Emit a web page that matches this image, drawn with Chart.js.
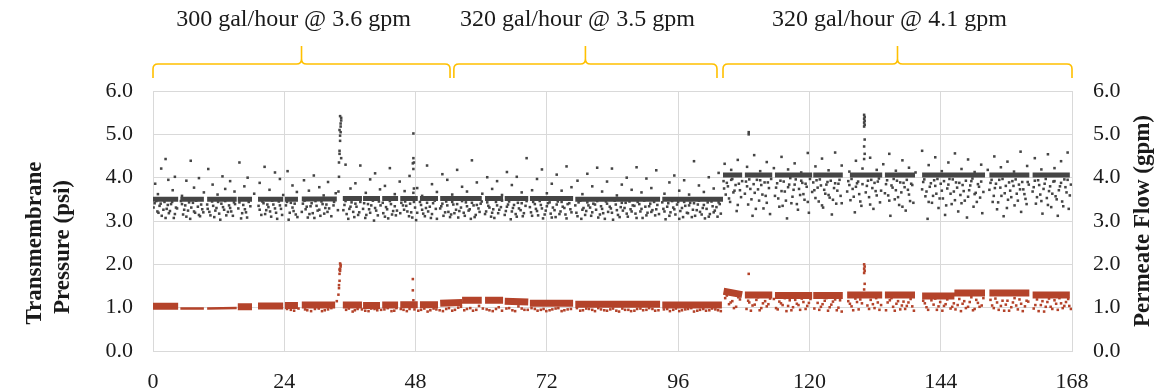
<!DOCTYPE html>
<html>
<head>
<meta charset="utf-8">
<script src="https://cdn.jsdelivr.net/npm/chart.js@4/dist/chart.umd.min.js"></script>
<style>
  html, body { margin: 0; padding: 0; background: #fff; }
  #wrap { width: 1158px; height: 391px; }
</style>
</head>
<body>
<div id="wrap"><canvas id="chart"></canvas></div>
<script>
// x ticks (hours) and y ticks
const hourTicks = [0, 24, 48, 72, 96, 120, 144, 168]
const valueTicks = [0, 1, 2, 3, 4, 5, 6]

// operating periods: start hour, end hour, label
const periodStart = [0, 55.0, 104.2]
const periodEnd = [54.3, 103.1, 168]
const periodLabels = ['300 gal/hour @ 3.6 gpm', '320 gal/hour @ 3.5 gpm', '320 gal/hour @ 4.1 gpm']

// dense runs of permeate flow readings: [from hour, to hour, value]
const flowRuns = [
  [0, 4.6, 3.5], [5.0, 9.3, 3.5], [9.9, 15.3, 3.5], [15.5, 18.1, 3.5], [19.2, 23.8, 3.5],
  [24.1, 26.5, 3.5], [27.2, 33.6, 3.51], [34.7, 38.2, 3.52], [38.4, 41.5, 3.52], [41.9, 44.8, 3.52],
  [45.2, 48.4, 3.52], [48.8, 52.1, 3.52], [52.5, 56.5, 3.52], [56.5, 60.1, 3.52], [60.7, 64.0, 3.52],
  [64.3, 68.6, 3.52], [68.9, 76.8, 3.52], [77.2, 92.7, 3.5], [93.1, 104.2, 3.5],
  [104.2, 107.7, 4.06], [108.2, 113.2, 4.06], [113.7, 120.5, 4.06], [120.7, 126.1, 4.06],
  [127.4, 133.3, 4.06], [133.8, 139.3, 4.06], [140.6, 152.1, 4.06], [152.9, 160.2, 4.06], [160.8, 167.6, 4.06]
]

// scattered permeate flow readings [hour, gpm]
const flowScatter = [
  [0.3,3.41],[0.8,3.22],[1.2,3.35],[1.6,3.12],[2.1,3.44],[2.5,3.28],[2.9,3.18],[3.3,3.39],[3.8,3.07],[4.2,3.31],
  [5.1,3.46],[5.5,3.15],[5.9,3.36],[6.4,3.24],[6.8,3.05],[7.3,3.42],[7.7,3.19],[8.2,3.33],[8.6,3.11],[9.0,3.27],
  [9.9,3.38],[10.3,3.21],[10.8,3.45],[11.2,3.09],[11.6,3.30],[12.1,3.17],[12.5,3.40],[13.0,3.26],[13.4,3.13],[13.9,3.36],
  [14.3,3.22],[14.8,3.43],[15.6,3.29],[16.1,3.06],[16.5,3.37],[17.0,3.20],[17.5,3.44],[19.3,3.35],[19.8,3.14],[20.2,3.41],
  [20.7,3.25],[21.1,3.32],[21.6,3.10],[22.0,3.38],[22.5,3.19],[23.0,3.45],[23.4,3.28],[24.3,3.36],[24.8,3.03],[25.2,3.42],
  [25.7,3.23],[26.1,3.15],[27.4,3.40],[27.9,3.27],[28.3,3.08],[28.8,3.34],[29.2,3.18],[29.7,3.46],[30.1,3.24],[30.6,3.12],
  [31.0,3.39],[31.5,3.30],[31.9,3.21],[33.1,3.44],[35.0,3.37],[35.4,3.16],[35.9,3.28],[36.3,3.43],[36.8,3.09],[37.2,3.33],
  [37.7,3.20],[38.6,3.41],[39.0,3.14],[39.5,3.27],[39.9,3.36],[40.4,3.01],[40.8,3.24],[41.3,3.45],[42.1,3.18],[42.6,3.32],
  [43.0,3.06],[43.5,3.39],[43.9,3.23],[44.4,3.13],[45.4,3.42],[45.9,3.26],[46.3,3.35],[46.8,3.11],[47.2,3.20],[47.7,3.44],
  [48.1,3.02],[49.0,3.37],[49.4,3.17],[49.9,3.30],[50.3,3.22],[50.8,3.07],[51.2,3.41],[51.7,3.28],[52.7,3.34],[53.1,3.12],
  [53.6,3.45],[54.0,3.21],[54.5,3.15],[54.9,3.38],[55.4,3.26],[55.8,3.08],[56.3,3.31],[56.8,3.19],[57.2,3.43],[57.7,3.24],
  [58.1,3.05],[58.6,3.36],[59.0,3.14],[59.5,3.29],[59.9,3.40],[60.9,3.22],[61.3,3.35],[61.8,3.10],[62.2,3.27],[62.7,3.44],
  [63.1,3.18],[63.6,3.32],[64.5,3.23],[64.9,3.38],[65.4,3.04],[65.8,3.30],[66.3,3.16],[66.7,3.42],[67.2,3.25],[67.6,3.11],
  [68.1,3.35],[69.1,3.20],[69.5,3.44],[70.0,3.28],[70.4,3.13],[70.9,3.37],[71.3,3.06],[71.8,3.24],[72.2,3.41],[72.7,3.17],
  [73.1,3.31],[73.6,3.09],[74.0,3.45],[74.5,3.22],[74.9,3.33],[75.4,3.15],[75.8,3.39],[76.3,3.27],[77.4,3.19],[77.8,3.43],
  [78.3,3.05],[78.7,3.30],[79.2,3.23],[79.6,3.36],[80.1,3.12],[80.5,3.40],[81.0,3.26],[81.4,3.08],[81.9,3.34],[82.3,3.18],
  [82.8,3.45],[83.2,3.21],[83.7,3.29],[84.1,3.03],[84.6,3.38],[85.0,3.14],[85.5,3.32],[85.9,3.24],[86.4,3.42],[86.8,3.10],
  [87.3,3.27],[87.7,3.36],[88.2,3.17],[88.6,3.44],[89.1,3.22],[89.5,3.07],[90.0,3.33],[90.4,3.19],[90.9,3.40],[91.3,3.25],
  [91.8,3.13],[92.2,3.37],[93.3,3.28],[93.7,3.04],[94.2,3.41],[94.6,3.20],[95.1,3.31],[95.5,3.15],[96.0,3.44],[96.4,3.23],
  [96.9,3.09],[97.3,3.35],[97.8,3.18],[98.2,3.42],[98.7,3.26],[99.1,3.12],[99.6,3.38],[100.0,3.21],[100.5,3.30],[100.9,3.06],
  [101.4,3.43],[101.8,3.16],[102.3,3.34],[102.7,3.24],[103.2,3.10],[103.6,3.39],
  [0.4,3.86],[0.9,3.62],[1.5,4.21],[2.3,4.43],[2.8,3.95],[3.6,3.71],[4.0,4.02],[5.3,3.58],[6.1,3.93],[6.9,4.39],
  [7.5,3.77],[8.4,3.99],[9.3,3.66],[10.1,4.20],[10.9,3.84],[11.8,3.61],[12.7,4.03],[13.2,3.74],[14.1,3.92],[14.9,3.68],
  [15.8,4.35],[16.7,3.80],[17.3,4.00],[18.5,3.63],[19.5,3.88],[20.4,4.25],[21.3,3.72],[22.3,4.12],[23.2,3.97],[23.8,3.60],
  [24.6,4.15],[25.5,3.82],[26.3,3.67],[27.6,3.94],[28.5,3.70],[29.4,4.05],[30.4,3.78],[31.2,3.59],[32.0,3.90],[33.4,3.64],
  [35.2,4.30],[36.1,3.75],[37.0,3.87],[37.9,4.28],[38.9,3.65],[39.7,3.96],[40.6,4.10],[41.5,3.73],[42.4,3.81],[43.3,4.22],
  [44.2,3.62],[45.1,3.91],[46.0,3.69],[46.9,4.04],[47.5,4.33],[48.3,3.76],[49.2,3.58],[50.1,4.28],[51.0,3.85],[51.9,3.67],
  [52.9,4.08],[53.8,3.95],[54.7,3.61],[55.6,4.18],[56.5,3.79],[57.4,3.68],[58.3,4.40],[59.2,3.89],[60.2,3.63],[61.1,4.01],
  [62.0,3.74],[62.9,3.92],[63.8,3.60],[64.7,4.13],[65.6,3.83],[66.5,4.02],[67.4,3.66],[68.3,4.45],[69.3,3.71],[70.2,3.97],
  [71.1,4.19],[72.0,3.64],[72.9,3.86],[73.8,4.07],[74.7,3.70],[75.6,4.26],[76.5,3.78],[77.6,3.93],[78.5,3.62],[79.4,4.09],
  [80.3,3.80],[81.2,4.23],[82.1,3.68],[83.0,3.91],[83.9,4.21],[84.8,3.59],[85.7,3.84],[86.6,4.00],[87.5,3.72],[88.4,4.24],
  [89.3,3.66],[90.2,3.98],[91.1,3.76],[92.0,4.17],[93.5,3.63],[94.4,3.89],[95.3,4.05],[96.2,3.70],[97.1,3.94],[98.0,3.61],
  [98.9,4.38],[99.8,3.82],[100.7,3.67],[101.6,4.01],[102.5,3.75],[103.4,4.11],
  [33.8,3.25],[33.9,3.68],[34.0,4.02],[34.0,4.35],[34.1,4.55],[34.1,4.62],[34.2,4.85],[34.2,4.97],[34.3,5.05],[34.3,5.18],
  [34.3,5.25],[34.4,5.32],[34.4,5.38],[34.2,5.42],[34.1,5.10],[34.4,4.45],
  [47.6,5.02],[47.6,4.45],[47.7,4.35],[47.6,4.20],[47.7,3.75],[47.6,3.65],
  [104.3,3.92],[104.7,3.61],[105.1,3.80],[105.5,3.44],[105.9,3.97],[106.3,3.70],[106.7,3.23],[107.1,3.86],[107.5,3.55],[108.4,3.91],
  [108.8,3.38],[109.2,3.74],[109.6,3.12],[110.0,3.65],[110.4,3.95],[110.8,3.47],[111.2,3.83],[111.6,3.29],[112.0,3.58],[112.4,3.89],
  [112.8,3.16],[113.9,3.77],[114.3,3.52],[114.7,3.93],[115.1,3.35],[115.5,3.68],[115.9,3.06],[116.3,3.84],[116.7,3.41],[117.1,3.72],
  [117.5,3.96],[117.9,3.26],[118.3,3.60],[118.7,3.88],[119.1,3.49],[119.5,3.79],[119.9,3.19],[120.9,3.71],[121.3,3.94],[121.7,3.45],
  [122.1,3.82],[122.5,3.31],[122.9,3.63],[123.3,3.90],[123.7,3.54],[124.1,3.15],[124.5,3.76],[124.9,3.40],[125.3,3.86],[125.7,3.58],
  [127.1,3.92],[127.5,3.48],[127.9,3.74],[128.3,3.20],[128.7,3.87],[129.1,3.62],[129.5,3.35],[130.5,3.81],[130.9,3.55],[131.3,3.95],
  [131.7,3.28],[132.1,3.69],[132.5,3.91],[132.9,3.43],[134.0,3.85],[134.4,3.59],[134.8,3.12],[135.2,3.77],[135.6,3.50],[136.0,3.93],
  [136.4,3.37],[136.8,3.66],[137.2,3.88],[137.6,3.24],[138.0,3.72],[138.4,3.46],[138.8,3.83],[140.8,3.90],[141.2,3.57],[141.6,3.05],
  [142.0,3.79],[142.4,3.42],[142.8,3.94],[143.2,3.63],[143.6,3.30],[144.0,3.86],[144.4,3.52],[144.8,3.14],[145.2,3.75],[145.6,3.97],
  [146.0,3.39],[146.4,3.68],[146.8,3.89],[147.2,3.22],[147.6,3.60],[148.0,3.83],[148.4,3.47],[148.8,3.08],[149.2,3.71],[149.6,3.92],
  [150.0,3.33],[150.4,3.65],[150.8,3.85],[151.2,3.54],[151.6,3.18],[153.1,3.88],[153.5,3.44],[153.9,3.76],[154.3,3.27],[154.7,3.95],
  [155.1,3.58],[155.5,3.11],[155.9,3.81],[156.3,3.49],[156.7,3.70],[157.1,3.92],[157.5,3.36],[157.9,3.63],[158.3,3.84],[158.7,3.21],
  [159.1,3.73],[159.5,3.51],[159.9,3.90],[161.0,3.78],[161.4,3.40],[161.8,3.94],[162.2,3.61],[162.6,3.17],[163.0,3.86],[163.4,3.53],
  [163.8,3.69],[164.2,3.32],[164.6,3.91],[165.0,3.57],[165.4,3.12],[165.8,3.80],[166.2,3.45],[166.6,3.96],[167.0,3.66],[167.4,3.28],[167.8,3.84],
  [104.5,4.32],[105.7,4.18],[106.9,4.41],[108.6,4.25],[109.9,4.52],[111.0,4.15],[112.2,4.36],[113.5,4.22],[114.9,4.48],[116.1,4.19],
  [117.3,4.33],[118.5,4.12],[119.7,4.57],[121.1,4.26],[122.3,4.44],[123.5,4.17],[124.7,4.58],[125.9,4.28],[127.3,4.14],[128.5,4.39],
  [129.7,4.21],[131.1,4.46],[132.3,4.18],[133.5,4.31],[134.6,4.55],[135.8,4.16],[137.0,4.40],[138.2,4.23],[139.4,4.12],[140.6,4.62],
  [141.8,4.29],[143.0,4.47],[144.2,4.15],[145.4,4.35],[146.6,4.56],[147.8,4.20],[149.0,4.42],[150.2,4.13],[151.4,4.30],[152.6,4.18],
  [153.8,4.49],[155.0,4.24],[156.2,4.37],[157.4,4.14],[158.6,4.60],[159.8,4.27],[161.2,4.45],[162.4,4.19],[163.6,4.54],[164.8,4.22],
  [166.0,4.38],[167.2,4.58],
  [108.9,5.05],[108.9,5.00],
  [130.0,5.45],[130.1,5.40],[130.0,5.36],[130.1,5.31],[130.0,5.27],[130.1,5.22],[130.0,5.18],[130.1,4.88],[130.0,4.72],[130.1,4.55],[130.0,4.43]
]

// more permeate flow readings close under the dense runs
const flowScatterMore = [
  [0.1,3.31],[0.6,3.46],[1.0,3.19],[1.4,3.40],[1.9,3.26],[2.3,3.07],[2.7,3.37],[3.1,3.23],[3.5,3.44],[4.0,3.16],[4.4,3.29],
  [5.3,3.39],[5.7,3.26],[6.1,3.10],[6.6,3.43],[7.0,3.31],[7.5,3.22],[7.9,3.47],[8.4,3.14],[8.8,3.38],[9.2,3.20],
  [10.0,3.28],[10.5,3.13],[11.0,3.35],[11.4,3.24],[11.9,3.44],[12.3,3.03],[12.8,3.32],[13.2,3.46],[13.7,3.21],[14.1,3.30],[14.6,3.12],[15.0,3.39],
  [15.8,3.43],[16.3,3.18],[16.8,3.27],[17.2,3.08],[17.8,3.34],
  [19.5,3.26],[20.0,3.45],[20.5,3.16],[20.9,3.38],[21.4,3.22],[21.8,3.47],[22.3,3.29],[22.7,3.05],[23.2,3.36],[23.6,3.14],
  [24.5,3.44],[25.0,3.19],[25.5,3.31],[25.9,3.40],[26.4,3.09],
  [27.2,3.21],[27.7,3.47],[28.1,3.33],[28.6,3.16],[29.0,3.41],[29.5,3.07],[29.9,3.35],[30.4,3.26],[30.8,3.45],[31.3,3.17],[31.7,3.38],[32.2,3.29],[32.6,3.11],[33.0,3.36],
  [34.8,3.25],[35.2,3.46],[35.7,3.05],[36.1,3.33],[36.6,3.21],[37.0,3.40],[37.5,3.14],[37.9,3.44],[38.4,3.28],[38.8,3.07],[39.3,3.39],[39.7,3.19],[40.2,3.47],[40.6,3.30],[41.1,3.13],[41.6,3.36],
  [42.0,3.42],[42.4,3.10],[42.8,3.27],[43.3,3.46],[43.7,3.15],[44.2,3.34],[44.6,3.24],
  [45.2,3.18],[45.7,3.36],[46.1,3.45],[46.5,3.22],[47.0,3.40],[47.4,3.08],[47.9,3.31],[48.3,3.19],
  [48.8,3.44],[49.2,3.26],[49.7,3.11],[50.1,3.42],[50.6,3.33],[51.0,3.16],[51.5,3.47],[51.9,3.05],[52.5,3.29],[52.9,3.40],[53.4,3.20],[53.8,3.36],[54.3,3.09],[54.7,3.44],[55.1,3.18],[55.6,3.39],[56.0,3.23],[56.5,3.46],[57.0,3.12],[57.4,3.34],[57.9,3.27],[58.3,3.42],[58.8,3.09],[59.2,3.37],[59.7,3.21],[60.1,3.45],
  [60.7,3.16],[61.1,3.43],[61.5,3.31],[62.0,3.19],[62.4,3.07],[62.9,3.36],[63.3,3.26],[63.8,3.47],
  [64.3,3.14],[64.7,3.33],[65.1,3.45],[65.6,3.22],[66.0,3.37],[66.5,3.10],[66.9,3.29],[67.4,3.41],[67.8,3.18],[68.3,3.46],
  [68.9,3.32],[69.3,3.12],[69.8,3.39],[70.2,3.23],[70.7,3.46],[71.1,3.29],[71.6,3.15],[72.0,3.34],[72.5,3.43],[72.9,3.08],[73.4,3.25],[73.8,3.38],[74.3,3.16],[74.7,3.44],[75.2,3.30],[75.6,3.06],[76.1,3.41],[76.5,3.20],
  [77.2,3.36],[77.6,3.11],[78.1,3.47],[78.5,3.26],[79.0,3.14],[79.4,3.43],[79.9,3.31],[80.3,3.20],[80.8,3.38],[81.2,3.46],[81.7,3.15],[82.1,3.28],[82.6,3.05],[83.0,3.40],[83.5,3.33],[83.9,3.19],[84.4,3.47],[84.8,3.25],[85.3,3.09],[85.7,3.42],[86.2,3.30],[86.6,3.17],[87.1,3.45],[87.5,3.22],[88.0,3.35],[88.4,3.07],[88.9,3.39],[89.3,3.28],[89.8,3.47],[90.2,3.13],[90.7,3.34],[91.1,3.21],[91.6,3.44],[92.0,3.27],[92.5,3.16],
  [93.1,3.43],[93.5,3.22],[94.0,3.33],[94.4,3.12],[94.9,3.46],[95.3,3.27],[95.8,3.38],[96.2,3.05],[96.7,3.30],[97.1,3.44],[97.6,3.19],[98.0,3.36],[98.5,3.09],[98.9,3.41],[99.4,3.25],[99.8,3.47],[100.3,3.15],[100.7,3.37],[101.2,3.28],[101.6,3.10],[102.1,3.45],[102.5,3.20],[103.0,3.32],[103.4,3.43],[103.8,3.17],
  [104.4,3.75],[104.9,3.88],[105.3,3.52],[105.7,3.95],[106.1,3.66],[106.5,3.83],[106.9,3.37],[107.3,3.71],[107.7,3.92],
  [108.2,3.63],[108.6,3.80],[109.0,3.96],[109.4,3.50],[109.8,3.85],[110.2,3.28],[110.6,3.73],[111.0,3.94],[111.4,3.61],[111.8,3.89],[112.2,3.42],[112.6,3.76],[113.0,3.97],
  [113.7,3.58],[114.1,3.87],[114.5,3.33],[114.9,3.69],[115.3,3.91],[115.7,3.47],[116.1,3.78],[116.5,3.99],[116.9,3.56],[117.3,3.84],[117.7,3.39],[118.1,3.74],[118.5,3.93],[118.9,3.62],[119.3,3.86],[119.7,3.44],[120.1,3.97],[120.5,3.67],
  [120.7,3.89],[121.1,3.53],[121.5,3.77],[121.9,3.96],[122.3,3.36],[122.7,3.72],[123.1,3.84],[123.5,3.60],[123.9,3.93],[124.3,3.49],[124.7,3.87],[125.1,3.70],[125.5,3.95],[125.9,3.41],
  [126.9,3.68],[127.3,3.83],[127.7,3.97],[128.1,3.56],[128.5,3.79],[128.9,3.91],[129.3,3.45],[129.7,3.85],[130.3,3.66],[130.7,3.93],[131.1,3.38],[131.5,3.76],[131.9,3.88],[132.3,3.59],[132.7,3.98],[133.1,3.70],
  [133.8,3.64],[134.2,3.94],[134.6,3.47],[135.0,3.82],[135.4,3.97],[135.8,3.71],[136.2,3.55],[136.6,3.89],[137.0,3.33],[137.4,3.78],[137.8,3.95],[138.2,3.61],[138.6,3.86],[139.0,3.42],
  [140.6,3.73],[141.0,3.96],[141.4,3.68],[141.8,3.44],[142.2,3.87],[142.6,3.58],[143.0,3.81],[143.4,3.97],[143.8,3.52],[144.2,3.70],[144.6,3.92],[145.0,3.36],[145.4,3.84],[145.8,3.63],[146.2,3.96],[146.6,3.48],[147.0,3.77],[147.4,3.88],[147.8,3.41],[148.2,3.69],[148.6,3.93],[149.0,3.56],[149.4,3.82],[149.8,3.98],[150.2,3.62],[150.6,3.44],[151.0,3.79],[151.4,3.91],[151.8,3.67],
  [152.9,3.72],[153.3,3.95],[153.7,3.58],[154.1,3.86],[154.5,3.43],[154.9,3.77],[155.3,3.97],[155.7,3.64],[156.1,3.30],[156.5,3.89],[156.9,3.55],[157.3,3.81],[157.7,3.96],[158.1,3.47],[158.5,3.73],[158.9,3.90],[159.3,3.62],[159.7,3.39],[160.1,3.84],
  [160.8,3.68],[161.2,3.93],[161.6,3.55],[162.0,3.83],[162.4,3.46],[162.8,3.74],[163.2,3.97],[163.6,3.37],[164.0,3.80],[164.4,3.63],[164.8,3.92],[165.2,3.50],[165.6,3.71],[166.0,3.88],[166.4,3.34],[166.8,3.78],[167.2,3.95],[167.6,3.59]
]

// dense runs of transmembrane pressure: [from hour, to hour, start psi, end psi]
const pressureRuns = [
  [0, 4.6, 1.03, 1.03], [15.5, 18.1, 1.02, 1.02], [19.2, 23.8, 1.04, 1.04], [24.1, 26.5, 1.05, 1.05],
  [27.2, 33.3, 1.06, 1.06], [34.7, 38.2, 1.06, 1.06], [38.4, 41.5, 1.05, 1.05], [41.9, 44.8, 1.06, 1.06],
  [45.2, 48.4, 1.07, 1.07], [48.8, 52.1, 1.07, 1.07], [52.5, 56.5, 1.10, 1.12], [56.5, 60.1, 1.17, 1.17],
  [60.7, 64.0, 1.17, 1.17], [64.3, 68.6, 1.15, 1.13], [68.9, 76.8, 1.10, 1.10], [77.2, 92.7, 1.08, 1.08],
  [93.1, 104.0, 1.06, 1.06], [104.3, 107.7, 1.38, 1.30], [108.2, 113.2, 1.29, 1.29], [113.7, 120.5, 1.28, 1.28],
  [120.7, 126.1, 1.28, 1.28], [126.9, 133.3, 1.29, 1.29], [133.8, 139.3, 1.29, 1.29], [140.6, 146.5, 1.27, 1.27],
  [146.5, 152.1, 1.34, 1.34], [152.9, 160.2, 1.34, 1.34], [160.8, 167.6, 1.29, 1.29]
]
// thin flat runs of pressure
const pressureThinRuns = [[5.0, 9.3, 0.98, 0.98], [9.9, 15.3, 0.98, 0.99]]

// scattered transmembrane pressure readings [hour, psi]
const pressureScatter = [
  [24.5,0.97],[25.8,0.93],[27.8,0.96],[28.9,0.92],[30.3,0.98],[31.4,0.94],[32.6,0.99],[35.3,0.95],[36.5,0.91],[37.4,0.97],
  [38.8,0.93],[39.9,0.98],[41.0,0.94],[42.3,0.96],[43.6,0.92],[44.5,0.99],[45.8,0.95],[46.9,0.97],[48.5,0.93],[49.6,0.98],
  [50.7,0.94],[51.8,0.96],[53.0,0.92],[54.1,0.99],[55.2,0.95],[56.3,1.02],[57.4,0.97],[58.5,0.93],[59.6,1.04],[61.0,0.96],
  [62.1,0.92],[63.2,1.01],[64.6,0.98],[65.7,0.94],[66.8,1.03],[67.9,0.95],[69.2,0.99],[70.3,0.93],[71.4,0.97],[72.5,0.94],
  [73.6,0.98],[74.7,0.92],[75.8,0.96],[77.5,0.99],[78.6,0.94],[79.7,0.97],[80.8,0.92],[81.9,0.96],[83.0,0.93],[84.1,0.98],
  [85.2,0.91],[86.3,0.95],[87.4,0.92],[88.5,0.97],[89.6,0.94],[90.7,0.99],[91.8,0.93],[93.4,0.96],[94.5,0.92],[95.6,0.98],
  [96.7,0.94],[97.8,0.97],[98.9,0.91],[100.0,0.95],[101.1,0.93],[102.2,0.98],[103.3,0.94],
  [33.6,1.15],[33.9,1.30],[34.0,1.45],[34.0,1.52],[34.1,1.62],[34.1,1.78],[34.2,1.85],[34.2,1.90],[34.3,1.95],[34.3,1.99],
  [34.2,2.02],[34.1,1.88],[47.5,1.66],[47.5,1.40],[47.6,1.17],
  [104.6,1.22],[105.3,1.08],[105.9,1.15],[106.6,1.02],[107.3,1.19],[108.5,0.97],[109.0,1.12],[109.6,1.05],[110.3,1.18],[110.9,0.94],
  [111.5,1.10],[112.2,1.03],[112.8,1.21],[113.9,0.99],[114.5,1.14],[115.1,1.06],[115.8,0.92],[116.4,1.17],[117.0,1.01],[117.7,1.09],
  [118.3,0.95],[118.9,1.13],[119.6,1.04],[120.2,1.20],[120.9,0.98],[121.5,1.11],[122.1,1.02],[122.8,1.16],[123.4,0.93],[124.0,1.07],
  [124.7,1.19],[125.3,1.00],[125.9,0.91],[127.1,1.15],[127.7,1.03],[128.4,1.21],[129.0,0.96],[129.6,1.10],[130.6,1.05],[131.2,1.18],
  [131.9,0.99],[132.5,1.12],[133.1,1.06],[134.0,0.94],[134.7,1.17],[135.3,1.02],[135.9,1.09],[136.6,0.96],[137.2,1.14],[137.8,1.04],
  [138.5,1.20],[139.1,0.93],[140.8,1.16],[141.4,1.01],[142.0,1.23],[142.7,1.07],[143.3,0.95],[143.9,1.13],[144.6,1.04],[145.2,1.19],
  [145.8,0.98],[146.4,1.10],[147.1,1.06],[147.7,0.92],[148.3,1.15],[149.0,1.02],[149.6,1.24],[150.2,0.97],[150.8,1.11],[151.5,1.05],
  [153.1,1.18],[153.7,0.99],[154.3,1.12],[155.0,1.04],[155.6,0.93],[156.2,1.16],[156.9,1.01],[157.5,1.22],[158.1,0.96],[158.7,1.09],
  [159.4,1.03],[160.0,1.14],[161.0,0.98],[161.6,1.19],[162.3,1.06],[162.9,0.91],[163.5,1.13],[164.1,1.02],[164.8,1.17],[165.4,0.95],
  [166.0,1.10],[166.6,1.04],[167.3,1.20],[167.8,0.97],
  [108.9,1.78],[130.0,2.00],[130.1,1.95],[130.0,1.90],[130.1,1.85],[130.0,1.80],[130.1,1.55],[130.0,1.42]
]

// more pressure readings under the dense runs
const pressureScatterMore = [
  [25.2,0.95],[26.6,0.98],[28.2,0.94],[29.6,0.97],[30.9,0.92],[32.0,0.96],[35.8,0.98],[36.9,0.94],[38.2,0.96],[39.4,0.92],
  [40.5,0.97],[41.7,0.95],[42.9,0.99],[44.1,0.93],[45.3,0.97],[46.4,0.92],[47.8,0.96],[49.0,0.95],[50.2,0.91],[51.3,0.98],
  [52.4,0.94],[53.6,0.97],[54.7,0.93],[55.8,1.00],[56.9,0.94],[58.0,0.99],[59.1,0.95],[60.3,0.98],[61.5,0.94],[62.7,0.97],
  [63.8,0.93],[65.1,0.99],[66.2,0.92],[67.4,0.98],[68.5,0.95],[69.8,0.97],[70.9,0.95],[71.9,0.92],[73.0,0.96],[74.1,0.99],
  [75.2,0.94],[76.4,0.97],[78.1,0.93],[79.2,0.98],[80.3,0.95],[81.4,0.99],[82.5,0.94],[83.6,0.96],[84.7,0.93],[85.8,0.98],
  [86.9,0.95],[88.0,0.93],[89.1,0.98],[90.2,0.95],[91.3,0.97],[92.4,0.94],[94.0,0.97],[95.1,0.95],[96.2,0.92],[97.3,0.96],
  [98.4,0.99],[99.5,0.93],[100.6,0.97],[101.7,0.94],[102.8,0.96],[103.8,0.92],
  [104.9,1.28],[105.6,1.12],[106.2,0.99],[107.0,1.24],[108.8,1.16],[109.3,0.93],[110.0,1.07],[110.6,1.24],[111.2,0.99],[111.9,1.15],
  [112.5,1.08],[113.5,1.20],[114.2,0.96],[114.8,1.10],[115.5,1.22],[116.1,1.04],[116.7,0.94],[117.4,1.18],[118.0,1.06],[118.6,1.21],
  [119.3,0.97],[119.9,1.11],[121.2,1.23],[121.8,0.95],[122.4,1.08],[123.1,1.22],[123.7,1.01],[124.3,1.14],[125.0,0.94],[125.6,1.17],
  [127.4,1.09],[128.0,0.94],[128.7,1.13],[129.3,1.19],[130.9,0.97],[131.6,1.08],[132.2,1.22],[132.8,0.95],[134.3,1.12],[135.0,1.22],
  [135.6,0.93],[136.2,1.15],[136.9,1.05],[137.5,0.97],[138.1,1.12],[138.8,1.03],[141.1,1.10],[141.7,0.95],[142.3,1.17],[143.0,1.21],
  [143.6,1.03],[144.3,0.93],[144.9,1.08],[145.5,1.24],[146.1,1.02],[146.7,0.96],[147.4,1.20],[148.0,1.09],[148.6,0.99],[149.3,1.13],
  [149.9,0.94],[150.5,1.18],[151.1,1.02],[151.8,1.22],[153.4,1.05],[154.0,1.21],[154.6,0.95],[155.3,1.16],[155.9,1.07],[156.5,0.93],
  [157.2,1.12],[157.8,1.05],[158.4,1.19],[159.0,0.92],[159.7,1.16],[161.3,1.06],[161.9,0.92],[162.6,1.15],[163.2,1.02],[163.8,1.21],
  [164.4,0.97],[165.1,1.09],[165.7,1.22],[166.3,0.99],[166.9,1.13],[167.5,1.04]
]

const GRAY = '#454545'
const RED = '#b4432a'
const FONT = "'Liberation Serif', 'Times New Roman', serif"

const toPoints = (pairs) => pairs.map(p => ({x: p[0], y: p[1]}))

const runsToLine = (runs) => {
  const pts = []
  runs.forEach(r => {
    pts.push({x: r[0], y: r[2]})
    pts.push({x: r[1], y: r[3] !== undefined ? r[3] : r[2]})
    pts.push({x: r[1] + 0.01, y: null})
  })
  return pts
}

const braces = {
  id: 'braces',
  afterDraw(chart) {
    const ctx = chart.ctx
    const xs = chart.scales.x
    ctx.save()
    ctx.strokeStyle = '#ffc000'
    ctx.lineWidth = 1.6
    const yLine = 64, yEnd = 78, yTip = 46, r = 5
    periodStart.forEach((s, i) => {
      const x0 = xs.getPixelForValue(s)
      const x1 = xs.getPixelForValue(periodEnd[i])
      const xm = (x0 + x1) / 2
      ctx.beginPath()
      ctx.moveTo(x0, yEnd)
      ctx.lineTo(x0, yLine + r)
      ctx.quadraticCurveTo(x0, yLine, x0 + r, yLine)
      ctx.lineTo(xm - r, yLine)
      ctx.quadraticCurveTo(xm, yLine, xm, yLine - r)
      ctx.lineTo(xm, yTip)
      ctx.moveTo(xm, yLine - r)
      ctx.quadraticCurveTo(xm, yLine, xm + r, yLine)
      ctx.lineTo(x1 - r, yLine)
      ctx.quadraticCurveTo(x1, yLine, x1, yLine + r)
      ctx.lineTo(x1, yEnd)
      ctx.stroke()

      ctx.fillStyle = '#1a1a1a'
      ctx.font = '24px ' + FONT
      ctx.textAlign = 'center'
      ctx.textBaseline = 'middle'
      ctx.fillText(periodLabels[i], xm - 8, 20)
    })

    // axis titles
    ctx.fillStyle = '#1a1a1a'
    ctx.font = 'bold 23px ' + FONT
    ctx.textAlign = 'center'
    ctx.textBaseline = 'middle'
    const rotText = (txt, x, y) => {
      ctx.save()
      ctx.translate(x, y)
      ctx.rotate(-Math.PI / 2)
      ctx.fillText(txt, 0, 0)
      ctx.restore()
    }
    rotText('Transmembrane', 35, 243)
    rotText('Pressure (psi)', 63, 247)
    rotText('Permeate Flow (gpm)', 1143, 221)
    ctx.restore()
  }
}

const tickFont = {family: FONT, size: 22}

new Chart(document.getElementById('chart'), {
  type: 'scatter',
  data: {
    datasets: [
      {
        label: 'Permeate Flow runs',
        data: runsToLine(flowRuns),
        showLine: true,
        borderColor: GRAY,
        borderWidth: 5,
        pointRadius: 0,
        spanGaps: false
      },
      {
        label: 'Permeate Flow',
        data: toPoints(flowScatter.concat(flowScatterMore)),
        backgroundColor: GRAY,
        pointStyle: 'rect',
        pointRadius: 1.8,
        pointBorderWidth: 0
      },
      {
        label: 'Pressure runs',
        data: runsToLine(pressureRuns),
        showLine: true,
        borderColor: RED,
        borderWidth: 7,
        pointRadius: 0,
        spanGaps: false
      },
      {
        label: 'Pressure thin runs',
        data: runsToLine(pressureThinRuns),
        showLine: true,
        borderColor: RED,
        borderWidth: 2.5,
        pointRadius: 0,
        spanGaps: false
      },
      {
        label: 'Transmembrane Pressure',
        data: toPoints(pressureScatter.concat(pressureScatterMore)),
        backgroundColor: RED,
        pointStyle: 'rect',
        pointRadius: 1.8,
        pointBorderWidth: 0
      }
    ]
  },
  options: {
    responsive: true,
    maintainAspectRatio: false,
    animation: false,
    layout: {padding: {top: 91, left: 0, right: 0, bottom: 0}},
    plugins: {legend: {display: false}, tooltip: {enabled: false}},
    scales: {
      x: {
        type: 'linear',
        min: 0,
        max: 168,
        afterBuildTicks: (s) => { s.ticks = hourTicks.map(v => ({value: v})) },
        afterFit: (s) => { s.height = 40 },
        grid: {color: '#d9d9d9', drawTicks: false},
        border: {color: '#d9d9d9'},
        ticks: {font: tickFont, color: '#1a1a1a', padding: 18, maxRotation: 0}
      },
      y: {
        position: 'left',
        min: 0,
        max: 6,
        afterBuildTicks: (s) => { s.ticks = valueTicks.map(v => ({value: v})) },
        afterFit: (s) => { s.width = 153 },
        grid: {color: '#d9d9d9', drawTicks: false},
        border: {color: '#d9d9d9'},
        ticks: {font: tickFont, color: '#1a1a1a', padding: 20, callback: v => v.toFixed(1)}
      },
      y2: {
        position: 'right',
        min: 0,
        max: 6,
        afterBuildTicks: (s) => { s.ticks = valueTicks.map(v => ({value: v})) },
        afterFit: (s) => { s.width = 86 },
        grid: {drawOnChartArea: false, drawTicks: false},
        border: {color: '#d9d9d9'},
        ticks: {font: tickFont, color: '#1a1a1a', padding: 21, callback: v => v.toFixed(1)}
      }
    }
  },
  plugins: [braces]
})
</script>
</body>
</html>
